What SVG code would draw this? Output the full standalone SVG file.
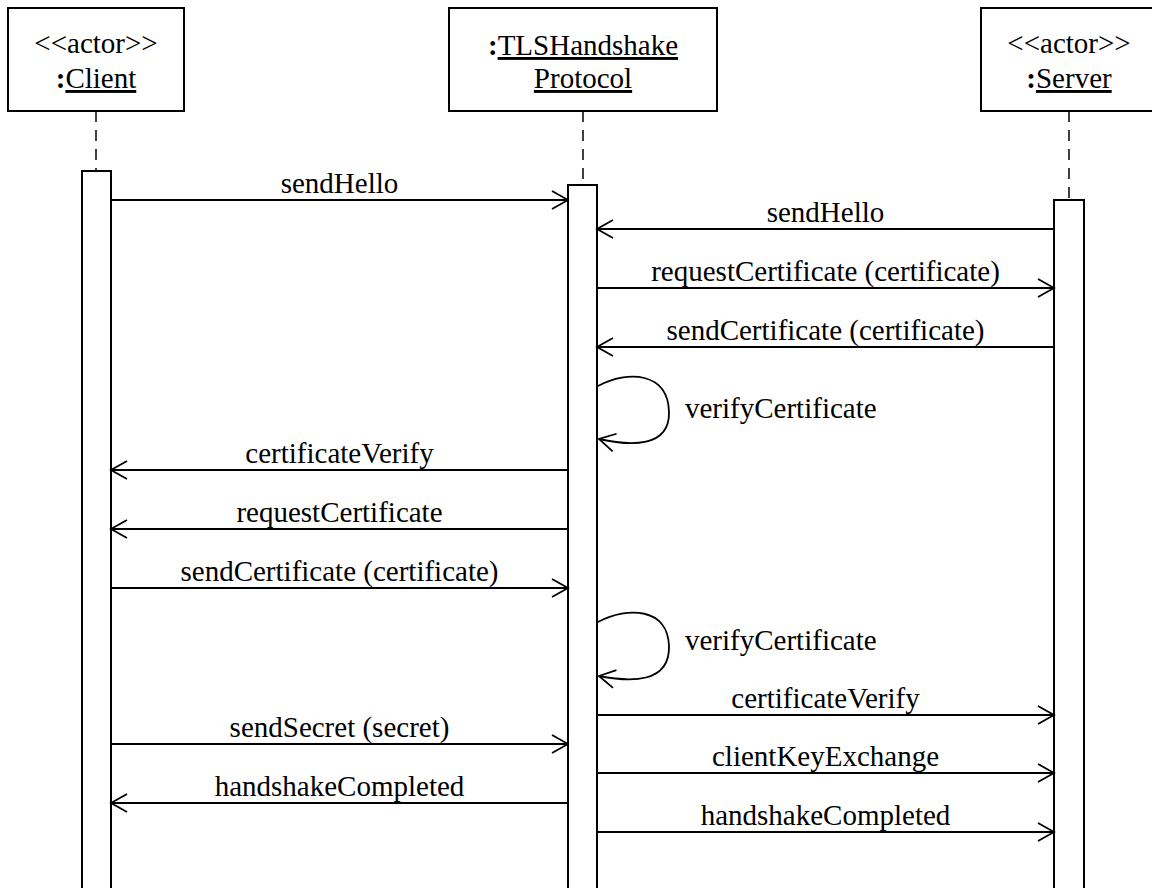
<svg xmlns="http://www.w3.org/2000/svg" width="1152" height="888" viewBox="0 0 1152 888">
<style>
  text { font-family: "Liberation Serif", "Times New Roman", serif; font-size: 29px; fill: #000; }
  .head { text-anchor: middle; }
  .lbl { text-anchor: middle; }
  .u { text-decoration: underline; }
  .colon { font-weight: bold; }
  .box { fill: #fff; stroke: #000; stroke-width: 2; }
  .act { fill: #fff; stroke: #000; stroke-width: 2; }
  .life { stroke: #000; stroke-width: 1.5; stroke-dasharray: 11 8; fill: none; }
  .msg { stroke: #000; stroke-width: 1.8; fill: none; marker-end: url(#arr); }
</style>
<defs>
  <marker id="arr" markerUnits="userSpaceOnUse" markerWidth="24" markerHeight="24" viewBox="-20 -12 24 24" refX="0" refY="0" orient="auto">
    <path d="M -16 -9 L 0 0 L -16 9" fill="none" stroke="#000" stroke-width="1.8"/>
  </marker>
</defs>
<rect width="1152" height="888" fill="#fff"/>

<g id="client">
  <rect class="box" x="8" y="8" width="176" height="103"/>
  <text class="head" x="96" y="53">&lt;&lt;actor&gt;&gt;</text>
  <text class="head" x="96" y="88"><tspan class="colon">:</tspan><tspan class="u">Client</tspan></text>
  <line class="life" x1="96" y1="111" x2="96" y2="171"/>
  <rect class="act" x="82" y="171" width="29" height="730"/>
</g>

<g id="tls">
  <rect class="box" x="449" y="8" width="268" height="103"/>
  <text class="head" x="583" y="55"><tspan class="colon">:</tspan><tspan class="u">TLSHandshake</tspan></text>
  <text class="head" x="583" y="88"><tspan class="u">Protocol</tspan></text>
  <line class="life" x1="583" y1="111" x2="583" y2="185"/>
  <rect class="act" x="568" y="185" width="29" height="716"/>
</g>

<g id="server">
  <rect class="box" x="981" y="8" width="176" height="103"/>
  <text class="head" x="1069" y="53">&lt;&lt;actor&gt;&gt;</text>
  <text class="head" x="1069" y="88"><tspan class="colon">:</tspan><tspan class="u">Server</tspan></text>
  <line class="life" x1="1069" y1="111" x2="1069" y2="200"/>
  <rect class="act" x="1054" y="200" width="30" height="701"/>
</g>

<g id="connectors">
  <line class="msg" x1="111" y1="200" x2="568" y2="200"/>
  <text class="lbl" x="339.5" y="193">sendHello</text>

  <line class="msg" x1="1054" y1="229" x2="597" y2="229"/>
  <text class="lbl" x="825.5" y="222">sendHello</text>

  <line class="msg" x1="597" y1="288" x2="1054" y2="288"/>
  <text class="lbl" x="825.5" y="281">requestCertificate (certificate)</text>

  <line class="msg" x1="1054" y1="347" x2="597" y2="347"/>
  <text class="lbl" x="825.5" y="340">sendCertificate (certificate)</text>

  <path class="msg" d="M 598 386 C 628 370, 668 372, 669 412 C 670 448, 630 446, 599 439"/>
  <text x="685" y="418">verifyCertificate</text>

  <line class="msg" x1="568" y1="470" x2="111" y2="470"/>
  <text class="lbl" x="339.5" y="463">certificateVerify</text>

  <line class="msg" x1="568" y1="529" x2="111" y2="529"/>
  <text class="lbl" x="339.5" y="522">requestCertificate</text>

  <line class="msg" x1="111" y1="588" x2="568" y2="588"/>
  <text class="lbl" x="339.5" y="581">sendCertificate (certificate)</text>

  <path class="msg" d="M 598 622 C 628 606, 668 608, 669 646 C 670 684, 630 682, 599 676"/>
  <text x="685" y="650">verifyCertificate</text>

  <line class="msg" x1="597" y1="715" x2="1054" y2="715"/>
  <text class="lbl" x="825.5" y="708">certificateVerify</text>

  <line class="msg" x1="111" y1="744" x2="568" y2="744"/>
  <text class="lbl" x="339.5" y="737">sendSecret (secret)</text>

  <line class="msg" x1="597" y1="773" x2="1054" y2="773"/>
  <text class="lbl" x="825.5" y="766">clientKeyExchange</text>

  <line class="msg" x1="568" y1="803" x2="111" y2="803"/>
  <text class="lbl" x="339.5" y="796">handshakeCompleted</text>

  <line class="msg" x1="597" y1="832" x2="1054" y2="832"/>
  <text class="lbl" x="825.5" y="825">handshakeCompleted</text>
</g>
</svg>
